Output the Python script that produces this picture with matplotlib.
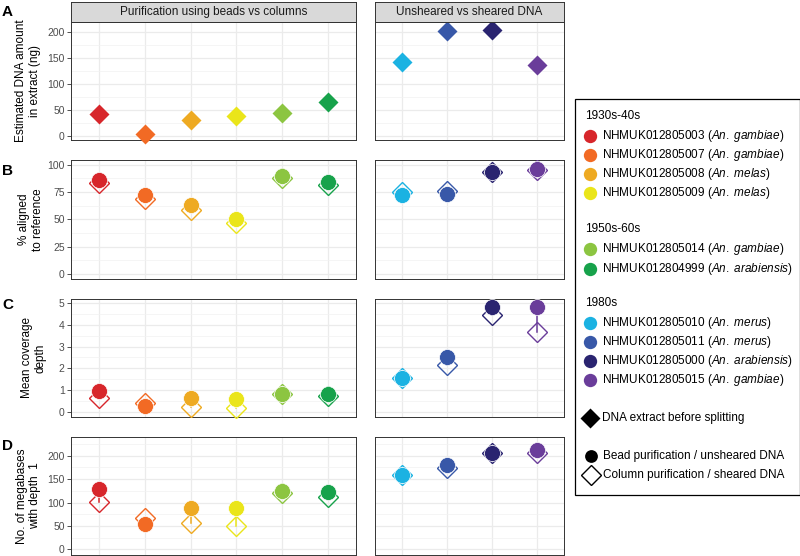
import matplotlib
matplotlib.use('Agg')
import matplotlib.pyplot as plt
from matplotlib.patches import Rectangle
from matplotlib.ticker import MultipleLocator

plt.rcParams['font.family'] = ['Liberation Sans', 'DejaVu Sans']
plt.rcParams['mathtext.fontset'] = 'custom'
plt.rcParams['mathtext.rm'] = 'Liberation Sans'
plt.rcParams['mathtext.it'] = 'Liberation Sans:italic'

# ---------------- data ----------------
sample_ids = ["NHMUK012805003", "NHMUK012805007", "NHMUK012805008", "NHMUK012805009",
              "NHMUK012805014", "NHMUK012804999",
              "NHMUK012805010", "NHMUK012805011", "NHMUK012805000", "NHMUK012805015"]
species = ["An. gambiae", "An. gambiae", "An. melas", "An. melas",
           "An. gambiae", "An. arabiensis",
           "An. merus", "An. merus", "An. arabiensis", "An. gambiae"]
colors = ["#D7262B", "#F26A24", "#EEAA22", "#EAE51A", "#8CC541", "#17A24B",
          "#1BB2E2", "#3858A8", "#2A2470", "#6A3D9A"]
decades = ["1930s-40s", "1950s-60s", "1980s"]
decade_members = [[0, 1, 2, 3], [4, 5], [6, 7, 8, 9]]
facet_titles = ["Purification using beads vs columns", "Unsheared vs sheared DNA"]
left_idx = [0, 1, 2, 3, 4, 5]
right_idx = [6, 7, 8, 9]

# A: estimated DNA amount (ng), extract before splitting
dna_extract = [43, 3, 30, 38, 45, 66, 143, 202, 205, 137]
# B: % aligned to reference
aligned_bead = [86, 72, 63, 50, 89.5, 84, 72, 73, 93, 96]
aligned_column = [83, 69, 59, 46.5, 87.5, 81, 75, 76, 93, 95]
# C: mean coverage depth
coverage_bead = [0.95, 0.29, 0.64, 0.62, 0.84, 0.85, 1.58, 2.52, 4.8, 4.8]
coverage_column = [0.64, 0.41, 0.25, 0.21, 0.82, 0.74, 1.58, 2.15, 4.42, 3.66]
# D: No. of megabases with depth >= 1
mb_bead = [128, 54, 88, 88, 125, 122, 158, 180, 205, 212]
mb_column = [101, 67, 56, 51, 120, 112, 158, 173, 205, 206]

# ---------------- layout ----------------
W, H = 800, 556
fig = plt.figure(figsize=(8, 5.56), dpi=100)


def px_axes(x0, y0, x1, y1):
    return fig.add_axes([x0 / W, 1 - y1 / H, (x1 - x0) / W, (y1 - y0) / H])


LX = (71, 356)
RX = (375, 564)

rows = [
    dict(letter="A", label="Estimated DNA amount\nin extract (ng)", y=(22, 140), ylim=(-8, 220),
         major=50, lab_xy=(28, 81), let_y=11.5, kind="extract", vals=(dna_extract,)),
    dict(letter="B", label="% aligned\nto reference", y=(160, 279), ylim=(-4.5, 104.3),
         major=25, lab_xy=(31, 219.5), let_y=171, kind="pair", vals=(aligned_bead, aligned_column)),
    dict(letter="C", label="Mean coverage\ndepth", y=(299, 417), ylim=(-0.22, 5.17),
         major=1, lab_xy=(34, 358), let_y=305, kind="pair", vals=(coverage_bead, coverage_column)),
    dict(letter="D", label="No. of megabases\nwith depth  1", y=(437, 555), ylim=(-12, 240),
         major=50, lab_xy=(28.5, 496), let_y=446.5, kind="pair", vals=(mb_bead, mb_column)),
]


def style(ax, ylim, major, nx, show_labels):
    ax.set_xlim(-0.6, nx - 0.4)
    ax.set_ylim(*ylim)
    ax.set_xticks(range(nx))
    ax.tick_params(axis='x', length=0, labelbottom=False)
    ax.yaxis.set_major_locator(MultipleLocator(major))
    ax.yaxis.set_minor_locator(MultipleLocator(major / 2))
    ax.grid(which='major', color='#EBEBEB', lw=0.9)
    ax.grid(which='minor', axis='y', color='#F2F2F2', lw=0.5)
    ax.set_axisbelow(True)
    ax.tick_params(axis='y', which='minor', length=0)
    ax.tick_params(axis='y', which='major', length=3, width=0.6, color='#333333',
                   labelsize=7.5, labelcolor='#4D4D4D', pad=1.5)
    if not show_labels:
        ax.tick_params(axis='y', which='major', length=0, labelleft=False)
    for s in ax.spines.values():
        s.set_color('#333333')
        s.set_linewidth(0.7)


for r in rows:
    y0, y1 = r["y"]
    for side, (xr, idx) in enumerate([(LX, left_idx), (RX, right_idx)]):
        ax = px_axes(xr[0], y0, xr[1], y1)
        style(ax, r["ylim"], r["major"], len(idx), side == 0)
        for k, i in enumerate(idx):
            c = colors[i]
            if r["kind"] == "extract":
                ax.plot(k, r["vals"][0][i], 'D', ms=9.7, color=c, mec='none', clip_on=False, zorder=3)
            else:
                bead, col = r["vals"]
                ax.plot([k, k], [bead[i], col[i]], color=c, lw=1.1, zorder=2)
                ax.plot(k, col[i], 'D', ms=10.5, mfc='none', mec=c, mew=1.0, clip_on=False, zorder=3)
                ax.plot(k, bead[i], 'o', ms=11.5, mfc=c, mec='white', mew=0.5, clip_on=False, zorder=4)
        if r["letter"] == "A":
            sax = px_axes(xr[0], 2, xr[1], 22)
            sax.set_xticks([]); sax.set_yticks([])
            sax.set_facecolor('#D9D9D9')
            for s in sax.spines.values():
                s.set_color('#333333'); s.set_linewidth(0.7)
            sax.text(0.5, 0.5, facet_titles[side], ha='center', va='center',
                     fontsize=8.5, color='#1A1A1A', transform=sax.transAxes)
    fig.text(r["lab_xy"][0] / W, 1 - r["lab_xy"][1] / H, r["label"], rotation=90,
             ha='center', va='center', multialignment='center', fontsize=8.5,
             linespacing=1.2, color='black')
    fig.text(7.5 / W, 1 - r["let_y"] / H, r["letter"], ha='center', va='center',
             fontsize=11, fontweight='bold')

# ---------------- legend ----------------
lg = fig.add_axes([0, 0, 1, 1], zorder=10)
lg.set_xlim(0, W)
lg.set_ylim(H, 0)
lg.axis('off')
lg.add_patch(Rectangle((574.5, 98.5), 225, 396.5, fill=False, ec='black', lw=0.9))

heading_y = [116, 229.3, 303.3]
item_y = {0: 136, 1: 155, 2: 174.3, 3: 193.3, 4: 249.3, 5: 269.3,
          6: 323.3, 7: 342, 8: 361, 9: 380}
for d, hy, members in zip(decades, heading_y, decade_members):
    lg.text(585, hy, d, ha='left', va='center', fontsize=8.5)
    for i in members:
        lg.plot(590, item_y[i], 'o', ms=9.6, color=colors[i], mec='none')
        sp = species[i].replace(' ', r'\ ')
        lg.text(602.5, item_y[i], sample_ids[i] + r" ($\mathit{" + sp + r"}$)",
                ha='left', va='center', fontsize=8.5)

lg.plot(590, 418, 'D', ms=9.7, color='black', mec='none')
lg.text(602, 418, "DNA extract before splitting", ha='left', va='center', fontsize=8.5)
lg.plot(591, 456, 'o', ms=9.2, color='black', mec='none')
lg.text(603.3, 456, "Bead purification / unsheared DNA", ha='left', va='center', fontsize=8.5)
lg.plot(591, 475, 'D', ms=10.2, mfc='none', mec='black', mew=1.0)
lg.text(603.3, 475, "Column purification / sheared DNA", ha='left', va='center', fontsize=8.5)

fig.savefig("out.png", dpi=100)
